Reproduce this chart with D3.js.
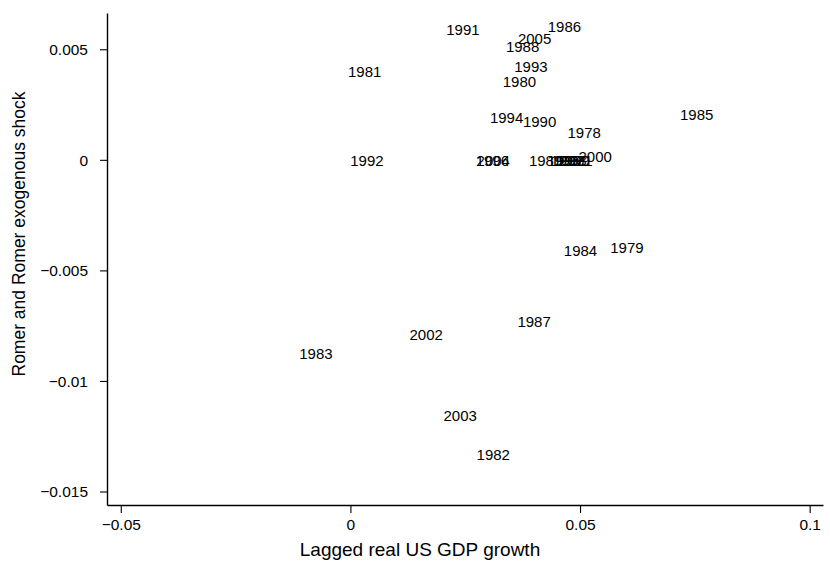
<!DOCTYPE html>
<html>
<head>
<meta charset="utf-8">
<script src="https://cdn.jsdelivr.net/npm/d3@7"></script>
<style>
  body { margin: 0; background: #fff; }
  svg { display: block; }
  text { font-family: "Liberation Sans", Arial, Helvetica, sans-serif; fill: #000; }
</style>
</head>
<body>
<svg id="chart" width="830" height="561"></svg>
<script>
// Year labels and their values
const years = ["1978","1979","1980","1981","1982","1983","1984","1985","1986","1987",
               "1988","1989","1990","1991","1992","1993","1994","1995","1996","1997",
               "1998","1999","2000","2001","2002","2003","2004","2005"];
// Lagged real US GDP growth
const gdpGrowth = [0.0509, 0.0602, 0.0368, 0.0031, 0.0311, -0.0075, 0.0501, 0.0754, 0.0466, 0.0400,
                   0.0375, 0.0425, 0.0412, 0.0245, 0.0036, 0.0393, 0.0340, 0.0465, 0.0309, 0.0472,
                   0.0478, 0.0485, 0.0533, 0.0491, 0.0165, 0.0239, 0.0311, 0.0401];
// Romer and Romer exogenous shock
const rrShock = [0.00127, -0.00394, 0.00357, 0.00400, -0.01330, -0.00873, -0.00407, 0.00208, 0.00606, -0.00729,
                 0.00516, 0, 0.00176, 0.00593, 0, 0.00423, 0.00195, 0, 0, 0,
                 0, 0, 0.00018, 0, -0.00787, -0.01154, 0, 0.00550];
const xTicks = [-0.05, 0, 0.05, 0.1];
const yTicks = [-0.015, -0.01, -0.005, 0, 0.005];

const svg = d3.select("#chart");
const x = d3.scaleLinear().domain([-0.053, 0.1029]).range([107, 823]);
const y = d3.scaleLinear().domain([-0.01561, 0.00664]).range([505, 13]);

const fmt = v => {
  const s = String(Math.abs(v));
  return (v < 0 ? "\u2212" : "") + s;
};

const xAxis = svg.append("g").attr("transform", "translate(0,505)")
  .call(d3.axisBottom(x).tickValues(xTicks).tickSize(8).tickSizeOuter(0).tickPadding(6).tickFormat(fmt));
const yAxis = svg.append("g").attr("transform", "translate(107,0)")
  .call(d3.axisLeft(y).tickValues(yTicks).tickSize(7).tickSizeOuter(0).tickPadding(12).tickFormat(fmt));

[xAxis, yAxis].forEach(g => {
  g.select(".domain").attr("stroke", "#000").attr("stroke-width", 1.4);
  g.selectAll(".tick line").attr("stroke", "#000").attr("stroke-width", 1.1);
  g.selectAll(".tick text").attr("font-size", 15.5).attr("font-family", "Liberation Sans, Arial, sans-serif").attr("fill", "#000");
});
yAxis.selectAll(".tick text").attr("dy", "0.34em");

// Data labels
svg.append("g").selectAll("text")
  .data(years)
  .join("text")
  .attr("x", (d, i) => x(gdpGrowth[i]))
  .attr("y", (d, i) => y(rrShock[i]))
  .attr("dy", "0.4em")
  .attr("text-anchor", "middle")
  .attr("font-size", 15)
  .text(d => d);

// Axis titles
svg.append("text")
  .attr("x", 420).attr("y", 556)
  .attr("text-anchor", "middle")
  .attr("font-size", 19)
  .text("Lagged real US GDP growth");

svg.append("text")
  .attr("transform", "translate(25,234) rotate(-90)")
  .attr("text-anchor", "middle")
  .attr("font-size", 17.5)
  .text("Romer and Romer exogenous shock");
</script>
</body>
</html>
